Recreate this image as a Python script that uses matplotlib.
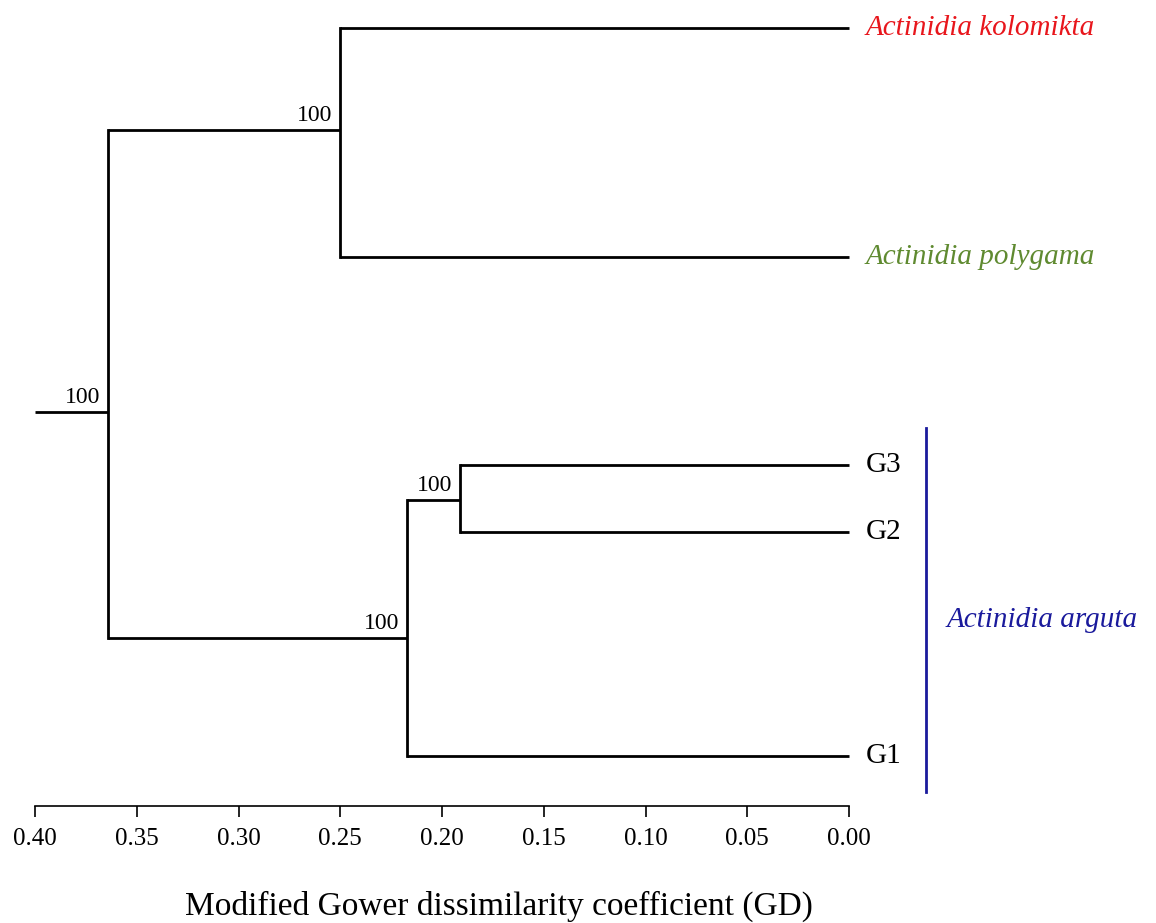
import matplotlib
matplotlib.use("Agg")
import matplotlib.pyplot as plt
import matplotlib.transforms as mtransforms

plt.rcParams['font.family'] = ['Liberation Serif', 'DejaVu Serif']

# ---- data ----
leaves = ["Actinidia kolomikta", "Actinidia polygama", "G3", "G2", "G1"]
leaf_colors = ["#e8161c", "#5f8a30", "black", "black", "black"]
leaf_italic = [True, True, False, False, False]
# merges: (child_a, child_b, height) ; leaves are 0..4, new nodes 5..
merges = [(0, 1, 0.250), (2, 3, 0.191), (6, 4, 0.217), (5, 7, 0.364)]
bootstrap = [100, 100, 100, 100]
root_height = 0.40
group_label = "Actinidia arguta"
group_color = "#1a1a9c"
xticks = [0.40, 0.35, 0.30, 0.25, 0.20, 0.15, 0.10, 0.05, 0.00]
xlabel = "Modified Gower dissimilarity coefficient (GD)"

# ---- layout (vertical positions, axis units growing downward) ----
leaf_y = [28, 257, 465, 532, 756]
node_y = [130, 500, 638, 412]
ax_h = 806

W, H = 1156, 923
fig = plt.figure(figsize=(W / 100, H / 100), dpi=100)
ax = fig.add_axes([35 / W, (H - ax_h) / H, 814 / W, ax_h / H])
ax.set_xlim(0.40, 0.00)
ax.set_ylim(ax_h, 0)

lw = 2.0
heights = [0.0] * len(leaves)
ys = list(leaf_y)
for (a, b, h), y in zip(merges, node_y):
    for c in (a, b):
        ax.plot([h, heights[c]], [ys[c], ys[c]], color="black", lw=lw,
                solid_capstyle="butt", clip_on=False)
    ax.plot([h, h], [ys[a], ys[b]], color="black", lw=lw,
            solid_capstyle="projecting", clip_on=False)
    heights.append(h)
    ys.append(y)
# root stub
ax.plot([root_height, heights[-1]], [ys[-1], ys[-1]], color="black", lw=lw,
        solid_capstyle="butt", clip_on=False)

# bootstrap labels
for (a, b, h), y, bs in zip(merges, node_y, bootstrap):
    ax.annotate(str(bs), xy=(h, y), xytext=(-6, 3), textcoords="offset points",
                ha="right", va="bottom", fontsize=17)

# leaf labels
for i, name in enumerate(leaves):
    ax.annotate(name, xy=(0.0, leaf_y[i]), xytext=(12, 0), textcoords="offset points",
                ha="left", va="center", fontsize=21, color=leaf_colors[i],
                style="italic" if leaf_italic[i] else "normal")

# group bracket for A. arguta
tr_line = mtransforms.offset_copy(ax.transData, fig=fig, x=77, y=0, units="dots")
ax.plot([0.0, 0.0], [428, 792], color=group_color, lw=2.0, transform=tr_line,
        clip_on=False)
tr_txt = mtransforms.offset_copy(ax.transData, fig=fig, x=98, y=0, units="dots")
ax.text(0.0, 620, group_label, transform=tr_txt, ha="left", va="center",
        fontsize=21, color=group_color, style="italic")

# axes styling
for s in ("left", "right", "top"):
    ax.spines[s].set_visible(False)
ax.spines["bottom"].set_linewidth(1.2)
ax.set_yticks([])
ax.set_xticks(xticks)
ax.set_xticklabels([f"{t:.2f}" for t in xticks], fontsize=18)
ax.tick_params(axis="x", direction="out", length=8, width=1.2, pad=8)
ax.patch.set_alpha(0)

fig.text(499 / W, 1 - 915 / H, xlabel, ha="center", va="baseline", fontsize=24)

fig.savefig("out.png", dpi=100)
